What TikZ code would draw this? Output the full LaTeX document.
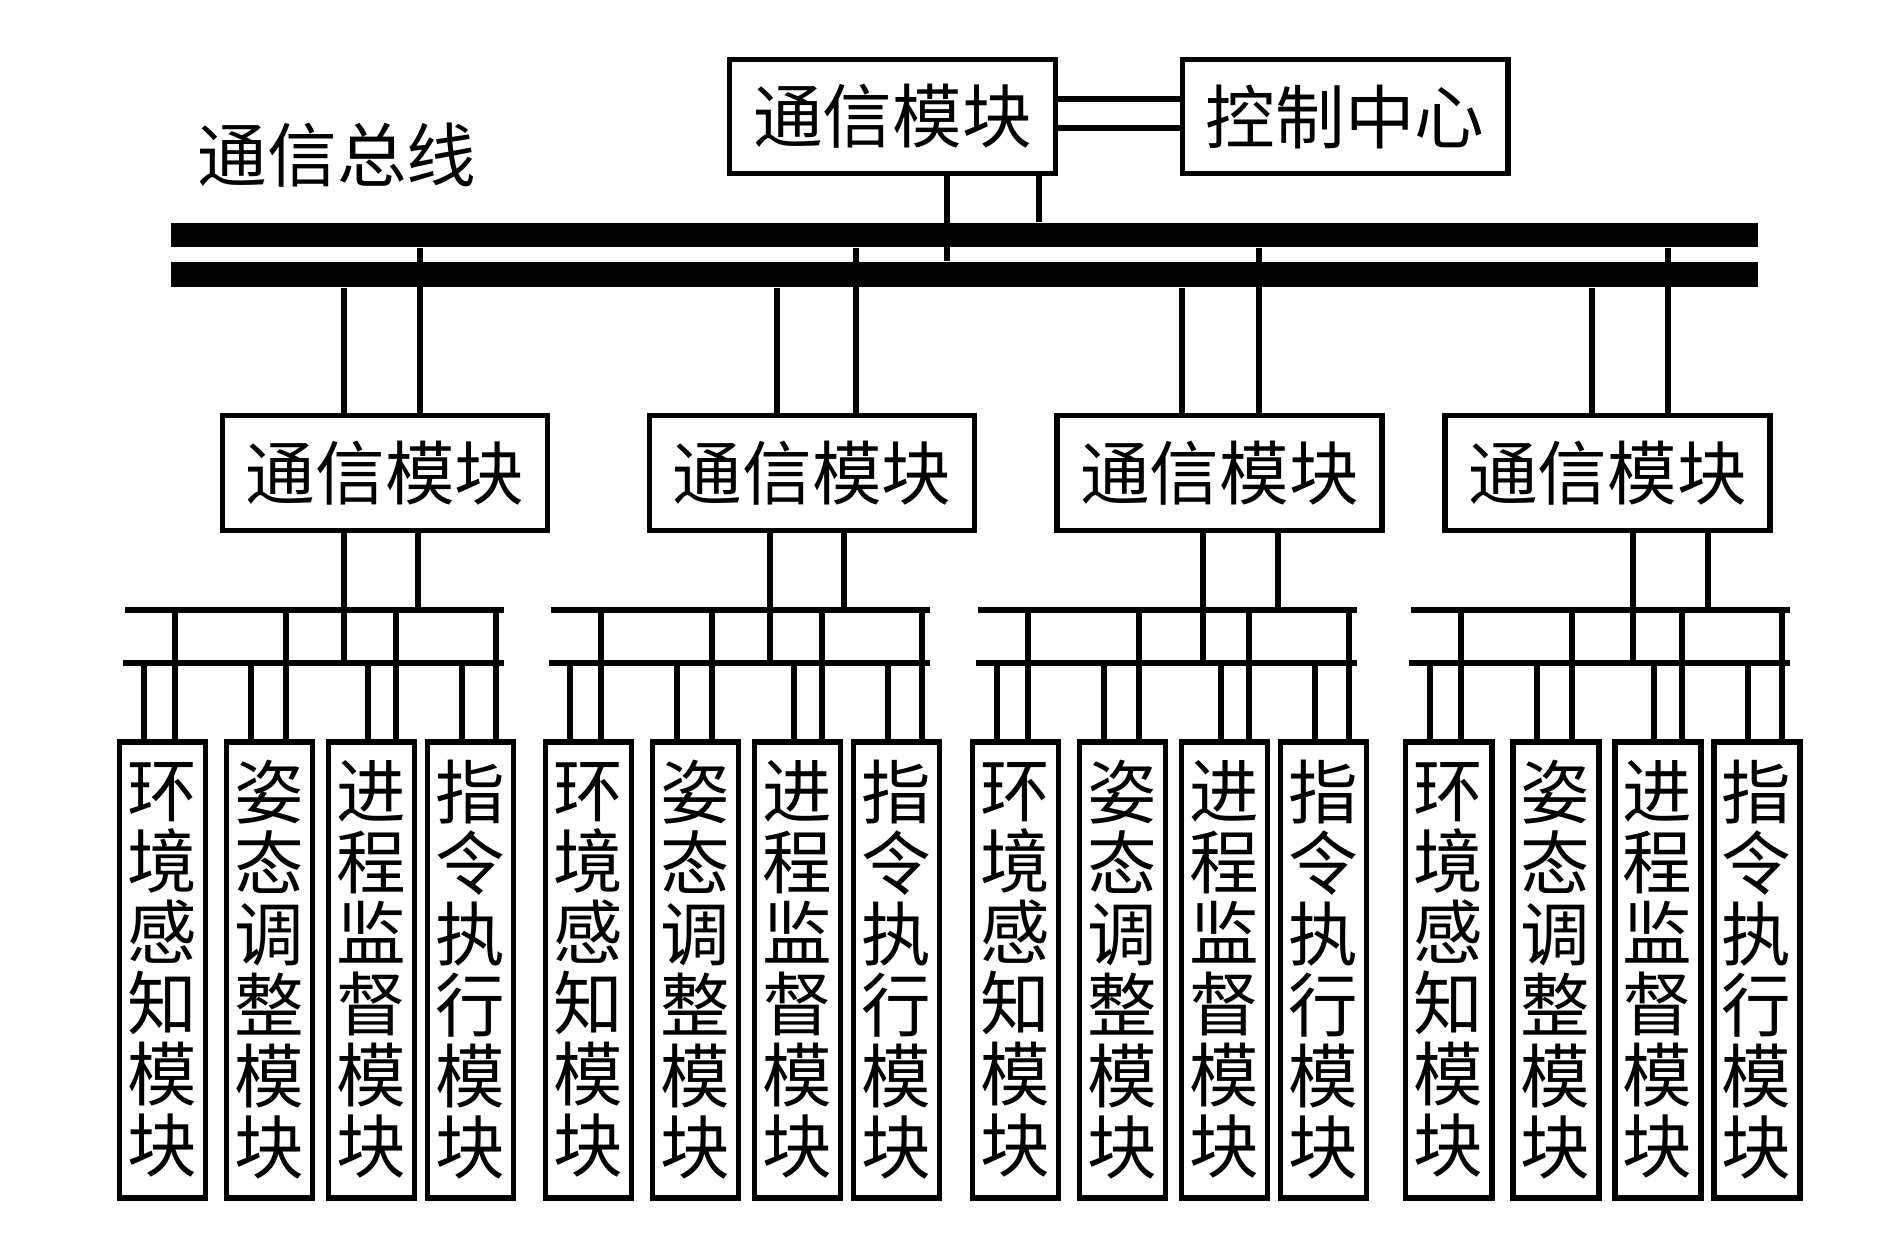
\documentclass[tikz,border=0pt]{standalone}
\usepackage{fontspec}
\usepackage{tikz}
\usetikzlibrary{positioning,calc}
\newfontfamily\cjk{Noto Sans CJK SC}
\tikzset{
  modbox/.style={rectangle, draw, line width=1.7pt, inner sep=0pt,
                 font=\cjk\fontsize{19.8}{24}\selectfont},
  unitbox/.style={rectangle, draw, line width=1.7pt, inner sep=0pt, align=center,
                  minimum width=0.86cm, minimum height=4.56cm,
                  font=\cjk\fontsize{19.8}{20.2}\selectfont},
  busbar/.style={rectangle, fill=black, inner sep=0pt, minimum width=15.87cm},
  wire/.style={line width=1.7pt},
}

\begin{document}
\begin{tikzpicture}[y=-1cm]
  \useasboundingbox (0,0) rectangle (18.9,12.52);
  % top
  \node[modbox, minimum width=3.26cm, minimum height=1.14cm] (topcm) at (8.925,1.165) {通信模块};
  \node[modbox, minimum width=3.25cm, minimum height=1.14cm] (ctrl) at (13.45,1.165) {控制中心};
  \node[font=\cjk\fontsize{19.8}{24}\selectfont] (lbl) at (3.37,1.55) {通信总线};
  \draw[wire] ([yshift=1.75mm]topcm.east) -- ([yshift=1.75mm]ctrl.west);
  \draw[wire] ([yshift=-1.15mm]topcm.east) -- ([yshift=-1.15mm]ctrl.west);
  % bus
  \node[busbar, minimum height=0.24cm] (busA) at (9.645,2.35) {};
  \node[busbar, minimum height=0.25cm] (busB) at (9.645,2.745) {};
  \draw[wire] (9.47,0|-topcm.south) -- (9.47,0|-busB.north);
  \draw[wire] (10.39,0|-topcm.south) -- (10.39,0|-busA.north);
  % groups
  \foreach \g/\mx/\al/\au/\bl/\bu/\gx in {1/3.85/3.44/4.20/3.44/4.18/1.17,
      2/8.12/7.77/8.56/7.70/8.44/5.43, 3/12.195/11.82/12.59/12.03/12.78/9.70,
      4/16.075/15.92/16.68/16.33/17.08/14.03}{
    \node[modbox, minimum width=3.25cm, minimum height=1.15cm] (cm\g) at (\mx,4.73) {通信模块};
    \draw[wire] (\al,0|-busB.south) -- (\al,0|-cm\g.north);
    \draw[wire] (\au,0|-busA.south) -- (\au,0|-cm\g.north);
    \coordinate (sa\g) at ({\gx+0.08},6.10);
    \coordinate (sb\g) at ({\gx+0.06},6.63);
    \draw[wire] (sa\g) -- ++(3.79,0);
    \draw[wire] (sb\g) -- ++(3.81,0);
    \draw[wire] (\bl,0|-cm\g.south) -- (\bl,0|-sb\g);
    \draw[wire] (\bu,0|-cm\g.south) -- (\bu,0|-sa\g);
    \foreach \k/\dx/\tl/\tu/\txt in {1/0/0.27/0.58/{环\\境\\感\\知\\模\\块},
        2/1.07/0.27/0.62/{姿\\态\\调\\整\\模\\块}, 3/2.09/0.42/0.70/{进\\程\\监\\督\\模\\块},
        4/3.08/0.37/0.71/{指\\令\\执\\行\\模\\块}}{
      \node[unitbox] (m\g\k) at ({\gx+\dx+0.455},9.695) {\txt};
      \draw[wire] ({\gx+\dx+\tl},0|-sb\g) -- ({\gx+\dx+\tl},0|-m\g\k.north);
      \draw[wire] ({\gx+\dx+\tu},0|-sa\g) -- ({\gx+\dx+\tu},0|-m\g\k.north);
    }
  }
\end{tikzpicture}
\end{document}
